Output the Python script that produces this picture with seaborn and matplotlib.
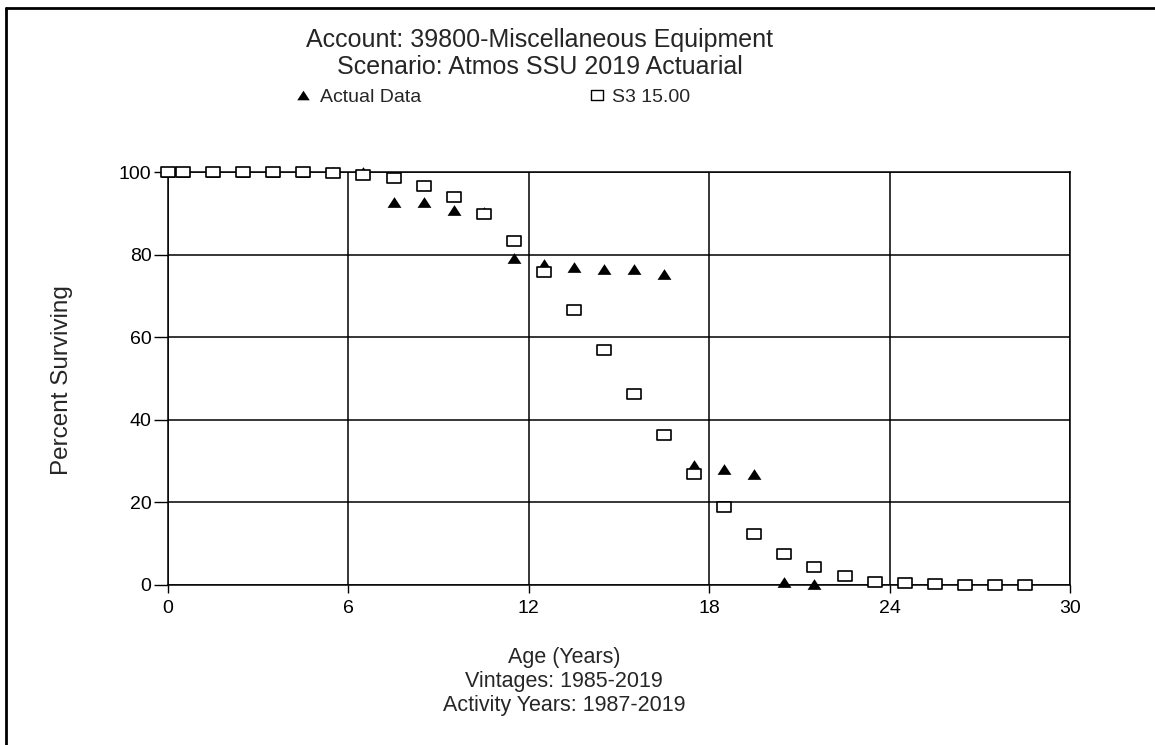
import numpy as np
import pandas as pd
import matplotlib
matplotlib.use("Agg")
import matplotlib.pyplot as plt
from matplotlib.path import Path
from matplotlib.lines import Line2D
import seaborn as sns

# ---- data ----
actual_age = [0, 0.5, 1.5, 2.5, 3.5, 4.5, 5.5, 6.5, 7.5, 8.5, 9.5, 10.5,
              11.5, 12.5, 13.5, 14.5, 15.5, 16.5, 17.5, 18.5, 19.5, 20.5, 21.5]
actual_pct = [100, 100, 100, 100, 100, 100, 100, 100, 92.8, 92.8, 90.8, 90.2,
              79.3, 77.7, 77.1, 76.4, 76.4, 75.2, 29.1, 28.0, 26.9, 0.6, 0.2]

curve_age = [0, 0.5, 1.5, 2.5, 3.5, 4.5, 5.5, 6.5, 7.5, 8.5, 9.5, 10.5, 11.5,
             12.5, 13.5, 14.5, 15.5, 16.5, 17.5, 18.5, 19.5, 20.5, 21.5, 22.5,
             23.5, 24.5, 25.5, 26.5, 27.5, 28.5]
curve_pct = [100, 100, 100, 100, 100, 100, 99.7, 99.2, 98.5, 96.7, 94.0, 89.8, 83.4,
             75.9, 66.6, 56.9, 46.2, 36.2, 26.9, 19.0, 12.3, 7.5, 4.4, 2.2,
             0.8, 0.4, 0.2, 0.1, 0.0, 0.0]

x_ticks = [0, 6, 12, 18, 24, 30]
y_ticks = [0, 20, 40, 60, 80, 100]

title_lines = ["Account: 39800-Miscellaneous Equipment",
               "Scenario: Atmos SSU 2019 Actuarial"]
actual_label = "Actual Data"
curve_label = "S3 15.00"
y_label = "Percent Surviving"
x_label_lines = ["Age (Years)", "Vintages: 1985-2019", "Activity Years: 1987-2019"]

# ---- style ----
sns.set_theme(style="white")
plt.rcParams["font.family"] = ["Liberation Sans", "DejaVu Sans"]

fig = plt.figure(figsize=(11.55, 7.45), dpi=100)
ax = fig.add_axes([0.1455, 0.2148, 0.7809, 0.5543])

tri = Path([(-1.3, -1.0), (1.3, -1.0), (0.0, 1.0), (-1.3, -1.0)],
           [Path.MOVETO, Path.LINETO, Path.LINETO, Path.CLOSEPOLY])
rect = Path([(-1.3, -1.0), (1.3, -1.0), (1.3, 1.0), (-1.3, 1.0), (-1.3, -1.0)],
            [Path.MOVETO, Path.LINETO, Path.LINETO, Path.LINETO, Path.CLOSEPOLY])

df_a = pd.DataFrame({"age": actual_age, "pct": actual_pct})
df_c = pd.DataFrame({"age": curve_age, "pct": curve_pct})

sns.scatterplot(data=df_a, x="age", y="pct", ax=ax, marker=tri, s=100,
                color="black", edgecolor="black", linewidth=0, zorder=3,
                clip_on=False)
sns.scatterplot(data=df_c, x="age", y="pct", ax=ax, marker=rect, s=95,
                facecolor="white", edgecolor="black", linewidth=1.2, zorder=4,
                clip_on=False)

ax.set_xlim(0, 30)
ax.set_ylim(0, 100)
ax.set_xticks(x_ticks)
ax.set_yticks(y_ticks)
ax.set_xticklabels([str(t) for t in x_ticks])
ax.set_yticklabels([str(t) for t in y_ticks])
ax.grid(True, color="black", linewidth=1.1)
ax.set_axisbelow(True)
for sp in ax.spines.values():
    sp.set_color("black")
    sp.set_linewidth(1.1)
ax.tick_params(axis="both", which="major", bottom=True, left=True,
               direction="out", width=1.0, color="black",
               labelsize=14, labelcolor="black")
ax.tick_params(axis="y", length=10, pad=2)
ax.tick_params(axis="x", length=6, pad=5)
ax.set_xlabel("")
ax.set_ylabel("")

# titles
fig.text(0.4675, 1 - 40 / 745, title_lines[0], ha="center", va="center", fontsize=18)
fig.text(0.4675, 1 - 67 / 745, title_lines[1], ha="center", va="center", fontsize=18)

# legend entries
h_a = Line2D([], [], linestyle="none", marker=tri, markersize=9,
             markerfacecolor="black", markeredgewidth=0, color="black")
h_c = Line2D([], [], linestyle="none", marker=rect, markersize=9,
             markerfacecolor="white", markeredgecolor="black", markeredgewidth=1.0)
leg1 = fig.legend(handles=[h_a], labels=[actual_label], loc="center left",
                  bbox_to_anchor=(294 / 1155, 1 - 97 / 745), frameon=False,
                  fontsize=14, handlelength=0.9, handletextpad=0.45,
                  borderpad=0, borderaxespad=0)
leg2 = fig.legend(handles=[h_c], labels=[curve_label], loc="center left",
                  bbox_to_anchor=(588 / 1155, 1 - 97 / 745), frameon=False,
                  fontsize=14, handlelength=0.9, handletextpad=0.35,
                  borderpad=0, borderaxespad=0)

# y label
fig.text(62 / 1155, 1 - 380 / 745, y_label, rotation=90, ha="center", va="center",
         fontsize=17.5)

# x label lines
for i, (txt, yy) in enumerate(zip(x_label_lines, [657, 682, 706])):
    fig.text(564 / 1155, 1 - yy / 745, txt, ha="center", va="center",
             fontsize=15.5)

# frame lines (top and left)
fig.add_artist(Line2D([6 / 1155, 1.0], [1 - 8 / 745, 1 - 8 / 745],
                      transform=fig.transFigure, color="black", linewidth=2))
fig.add_artist(Line2D([6 / 1155, 6 / 1155], [0.0, 1 - 8 / 745],
                      transform=fig.transFigure, color="black", linewidth=2))

fig.savefig("out.png", dpi=100, facecolor="white")
